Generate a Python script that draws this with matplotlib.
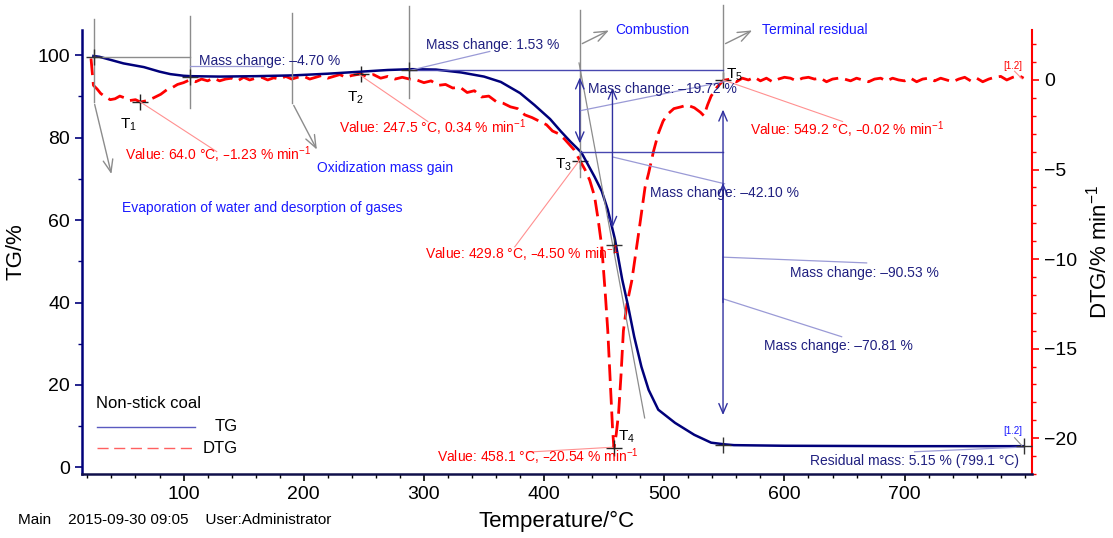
import matplotlib
matplotlib.use("Agg")
import matplotlib.pyplot as plt
from matplotlib.ticker import MultipleLocator

plt.rcParams['font.family'] = ['Liberation Sans', 'DejaVu Sans']
plt.rcParams['mathtext.default'] = 'regular'

# TG curve, mass in % vs temperature in °C
tg_temp = [25, 30, 40, 50, 67, 80, 89, 100, 106, 130, 160, 192, 220, 248, 270, 290,
           310, 331, 350, 364, 380, 392, 405, 414, 422, 431, 442, 448, 453, 459, 465,
           470, 475, 481, 487, 495, 509, 525, 539, 550, 558, 600, 650, 700, 750, 799]
tg_value = [99.8, 99.6, 98.8, 98.0, 97.1, 96.0, 95.4, 95.0, 94.9, 94.8, 94.9, 95.1, 95.5,
            96.0, 96.4, 96.6, 96.5, 95.8, 94.8, 93.5, 90.8, 87.9, 84.5, 81.5, 79.0, 76.4,
            70.5, 67.0, 62.5, 55.3, 45.6, 39.0, 31.7, 24.4, 18.8, 14.0, 10.8, 7.9, 6.0,
            5.6, 5.4, 5.25, 5.2, 5.15, 5.15, 5.15]

# DTG curve, % min^-1 vs temperature in °C
dtg_temp = [23, 25, 28, 31, 35, 39, 43, 47, 51, 55, 60, 64, 70, 75, 81, 86, 90, 95, 100,
            105, 110, 115, 120, 125, 130, 135, 140, 145, 150, 155, 160, 165, 170, 175,
            180, 185, 190, 195, 200, 205, 210, 215, 220, 225, 230, 235, 240, 247.5, 252,
            258, 264, 270, 276, 282, 288, 294, 300, 306, 312, 318, 324, 330, 336, 342,
            348, 354, 360, 366, 372, 378, 384, 390, 396, 402, 407, 412, 417, 421, 425,
            429.8, 434, 438, 442, 445, 448, 451, 453, 455, 457, 458.1, 460, 462, 464,
            466, 469, 473, 476, 479, 484, 487, 491, 495, 499, 503, 508, 514, 519, 525,
            530, 533, 536, 539, 544, 549.2, 555, 560, 565, 570, 575, 580, 585, 590, 595,
            600, 605, 610, 615, 620, 625, 630, 635, 640, 645, 650, 655, 660, 665, 670,
            675, 680, 685, 690, 695, 700, 705, 710, 715, 720, 725, 730, 735, 740, 745,
            750, 755, 760, 765, 770, 775, 780, 785, 790, 795, 799]
dtg_value = [1.2, -0.3, -0.5, -0.75, -0.95, -1.1, -1.05, -0.9, -1.0, -1.15, -1.1, -1.23,
             -1.15, -1.0, -0.8, -0.55, -0.45, -0.25, -0.15, 0.0, -0.1, 0.05, -0.05, 0.1,
             -0.05, 0.05, 0.1, -0.05, 0.15, 0.0, 0.1, 0.15, 0.0, 0.12, 0.05, 0.2, 0.05,
             0.15, 0.2, 0.05, 0.15, 0.25, 0.1, 0.2, 0.3, 0.15, 0.25, 0.34, 0.2, 0.3, 0.1,
             0.2, 0.05, 0.15, 0.05, 0.0, -0.15, -0.05, -0.3, -0.25, -0.45, -0.4, -0.7,
             -0.6, -0.95, -0.9, -1.2, -1.3, -1.5, -1.6, -1.95, -2.1, -2.3, -2.5, -2.85,
             -3.0, -3.3, -3.6, -3.9, -4.5, -5.0, -5.6, -6.5, -7.8, -9.3, -12.0, -14.0,
             -16.8, -19.5, -20.54, -19.8, -18.6, -16.5, -14.0, -12.5, -11.2, -9.8, -8.4,
             -6.0, -5.2, -4.0, -3.0, -2.3, -1.9, -1.6, -1.5, -1.4, -1.55, -1.8, -2.0, -1.4,
             -0.9, -0.4, -0.02, 0.05, -0.1, 0.1, 0.0, 0.15, -0.05, 0.1, -0.1, 0.05, 0.15,
             0.1, -0.05, 0.1, 0.15, 0.05, 0.1, -0.1, 0.05, 0.1, 0.05, -0.05, 0.1, 0.0,
             -0.1, 0.05, 0.1, -0.05, 0.1, 0.0, -0.05, 0.1, -0.1, 0.05, 0.1, -0.05, 0.1,
             0.0, -0.1, 0.05, 0.15, -0.05, 0.1, -0.1, 0.05, 0.15, 0.2, 0.0, 0.15, 0.25, 0.1]

# characteristic points T1..T5 on the DTG curve
peak_temp = [64.0, 247.5, 429.8, 458.1, 549.2]
peak_dtg = [-1.23, 0.34, -4.50, -20.54, -0.02]
peak_names = ['T$_1$', 'T$_2$', 'T$_3$', 'T$_4$', 'T$_5$']

NAVY = '#00007a'
TXT_NAVY = '#202080'
BLUE = '#1a1aff'
GRAY = '#8c8c8c'
LAV = '#9a9ad6'
PINK = '#ff9090'

fig = plt.figure(figsize=(11.13, 5.38), dpi=100)
ax = fig.add_axes([82 / 1113, 64 / 538, 950 / 1113, 444 / 538])
ax2 = ax.twinx()
ax.set_zorder(ax2.get_zorder() + 1)
ax.patch.set_visible(False)

ax.set_xlim(15.5, 806)
ax.set_ylim(-1.6, 106.1)
ax2.set_ylim(-22.0, 2.79)

ax2.plot(dtg_temp, dtg_value, color='red', lw=2, dashes=(6, 2.5))
ax.plot(tg_temp, tg_value, color=NAVY, lw=1.8)

# axes styling
ax.spines['top'].set_visible(False)
ax2.spines['top'].set_visible(False)
ax.spines['right'].set_visible(False)
ax2.spines['left'].set_visible(False)
ax2.spines['bottom'].set_visible(False)
ax.spines['left'].set_color(NAVY)
ax.spines['left'].set_linewidth(1.8)
ax.spines['bottom'].set_color('#10104a')
ax.spines['bottom'].set_linewidth(1.8)
ax2.spines['right'].set_color('red')
ax2.spines['right'].set_linewidth(1.5)

ax.xaxis.set_major_locator(MultipleLocator(100))
ax.xaxis.set_minor_locator(MultipleLocator(20))
ax.yaxis.set_major_locator(MultipleLocator(20))
ax.yaxis.set_minor_locator(MultipleLocator(10))
ax2.yaxis.set_major_locator(MultipleLocator(5))
ax2.yaxis.set_minor_locator(MultipleLocator(1))
ax.set_xticks([100, 200, 300, 400, 500, 600, 700])
ax.tick_params(axis='both', which='major', labelsize=14, length=5, width=1.2, direction='out')
ax.tick_params(axis='both', which='minor', length=3, width=1.0, direction='out')
ax.tick_params(axis='y', which='both', color=NAVY)
ax2.tick_params(axis='y', which='major', labelsize=14, length=5, width=1.2, color='red')
ax2.tick_params(axis='y', which='minor', length=3, width=1.0, color='red')

ax.set_xlabel('Temperature/°C', fontsize=16, labelpad=6)
ax.set_ylabel('TG/%', fontsize=16, labelpad=8)
ax2.set_ylabel('DTG/% min$^{-1}$', fontsize=16, labelpad=6)

# gray step markers and process arrows
def gline(xs, ys, **kw):
    ax.plot(xs, ys, clip_on=False, **kw)

for t, y0, y1 in [(25.5, 88.7, 108.8), (105.4, 87.2, 109.6), (190.6, 88.4, 110.3),
                  (287.7, 89.7, 112.0), (429.7, 70.5, 111.0), (548.9, 93.9, 112.2)]:
    gline([t, t], [y0, y1], color=GRAY, lw=1)
gline([25.5, 105.4], [99.5, 99.5], color=GRAY, lw=1)
gline([429.1, 483.7], [98.1, 12.0], color=GRAY, lw=0.9)

arrow_kw = dict(arrowstyle='->,head_length=0.9,head_width=0.35', color=GRAY, lw=1)
for start, end in [((25.5, 88.7), (40.5, 70.5)), ((190.6, 88.4), (212.0, 76.5)),
                   ((429.7, 102.5), (456.0, 106.3)), ((548.9, 102.5), (575.2, 106.3))]:
    ax.annotate('', xy=end, xytext=start, arrowprops=arrow_kw, annotation_clip=False)

# navy level lines
gline([287.7, 548.9], [96.4, 96.4], color='#4848b0', lw=1)
gline([429.7, 548.9], [76.5, 76.5], color='#4848b0', lw=1)

dbl = dict(arrowstyle='<->,head_length=0.7,head_width=0.3', color='#3030a0', lw=1,
           shrinkA=0, shrinkB=0)
ax.annotate('', xy=(429.7, 94.6), xytext=(429.7, 78.6), arrowprops=dbl)
ax.annotate('', xy=(456.9, 92.1), xytext=(456.9, 58.1), arrowprops=dbl)
ax.annotate('', xy=(548.9, 86.8), xytext=(548.9, 12.7), arrowprops=dbl)
ax.annotate('', xy=(548.9, 69.0), xytext=(548.9, 40.0),
            arrowprops=dict(arrowstyle='->,head_length=0.7,head_width=0.3', color='#3030a0',
                            lw=1, shrinkA=0, shrinkB=0))

# leader lines for mass changes
for xs, ys in [([105.4, 166.0], [97.3, 97.3]), ([288.3, 354.8], [96.3, 100.9]),
               ([429.7, 550.2], [86.5, 93.6]), ([457.1, 550.2], [75.3, 68.8]),
               ([548.9, 668.4], [51.0, 49.6]), ([548.9, 647.6], [40.9, 31.7]),
               ([708.3, 795.6], [3.8, 4.9])]:
    gline(xs, ys, color=LAV, lw=0.9)

# leader lines for the DTG values
for xs, ys in [([63.8, 127.6], [88.7, 76.6]), ([246.7, 303.3], [95.2, 83.9]),
               ([429.7, 375.6], [74.6, 53.5]), ([457.1, 385.6], [4.9, 3.7]),
               ([548.9, 648.4], [94.0, 83.9])]:
    gline(xs, ys, color=PINK, lw=0.8)

# cross markers
ax2.plot(peak_temp, peak_dtg, ls='none', marker='+', ms=12, mew=1, color='#222222')
ax.plot([25.5, 105.4, 287.7, 458.1, 548.9, 799.1], [99.5, 94.7, 96.4, 54.0, 5.4, 5.15],
        ls='none', marker='+', ms=12, mew=1, color='#333333', clip_on=False)

name_pos = [(47.2, 83.1), (236.0, 89.6), (409.5, 73.4), (461.3, 7.4), (551.0, 95.2)]
for name, (tx, ty) in zip(peak_names, name_pos):
    ax.text(tx, ty, name, fontsize=11, ha='left', va='center')

# mass change texts
for s, tx, ty in [('Mass change: –4.70 %', 112.8, 98.7), ('Mass change: 1.53 %', 301.6, 102.5),
                  ('Mass change: –19.72 %', 436.4, 91.8), ('Mass change: –42.10 %', 487.9, 66.6),
                  ('Mass change: –90.53 %', 604.3, 47.2), ('Mass change: –70.81 %', 582.7, 29.4),
                  ('Residual mass: 5.15 % (799.1 °C)', 621.5, 1.6)]:
    ax.text(tx, ty, s, fontsize=10, color=TXT_NAVY, ha='left', va='center')

# process texts
for s, tx, ty in [('Evaporation of water and desorption of gases', 48.6, 62.9),
                  ('Oxidization mass gain', 210.7, 72.6), ('Combustion', 459.6, 106.2),
                  ('Terminal residual', 581.6, 106.2)]:
    ax.text(tx, ty, s, fontsize=10, color=BLUE, ha='left', va='center', clip_on=False)

# DTG value texts
for s, tx, ty in [('Value: 64.0 °C, –1.23 % min$^{-1}$', 51.3, 75.8),
                  ('Value: 247.5 °C, 0.34 % min$^{-1}$', 229.5, 82.3),
                  ('Value: 429.8 °C, –4.50 % min$^{-1}$', 300.8, 51.8),
                  ('Value: 458.1 °C, –20.54 % min$^{-1}$', 310.5, 2.6),
                  ('Value: 549.2 °C, –0.02 % min$^{-1}$', 571.1, 81.9)]:
    ax.text(tx, ty, s, fontsize=10, color='red', ha='left', va='center')

# end-of-curve tags
ax.text(789.8, 8.8, '[1.2]', fontsize=7, color=BLUE, ha='center', va='center')
gline([791.5, 797.5], [7.2, 5.3], color=GRAY, lw=0.8)
ax.text(789.8, 97.3, '[1.2]', fontsize=7, color='red', ha='center', va='center')
gline([791.5, 797.5], [96.1, 94.3], color=PINK, lw=0.8)

# legend drawn by hand
ax.text(27.3, 15.6, 'Non-stick coal', fontsize=12, ha='left', va='center')
ax.plot([28.1, 109.5], [9.85, 9.85], color='#5a5ac0', lw=1)
ax.text(145.0, 9.85, 'TG', fontsize=12, ha='right', va='center')
ax.plot([28.1, 107.8], [4.7, 4.7], color='#ff6060', lw=1, dashes=(8, 4))
ax.text(145.0, 4.7, 'DTG', fontsize=12, ha='right', va='center')

fig.text(18 / 1113, 1 - 520 / 538, 'Main    2015-09-30 09:05    User:Administrator',
         fontsize=11, ha='left', va='center')

fig.savefig('out.png', dpi=100)
